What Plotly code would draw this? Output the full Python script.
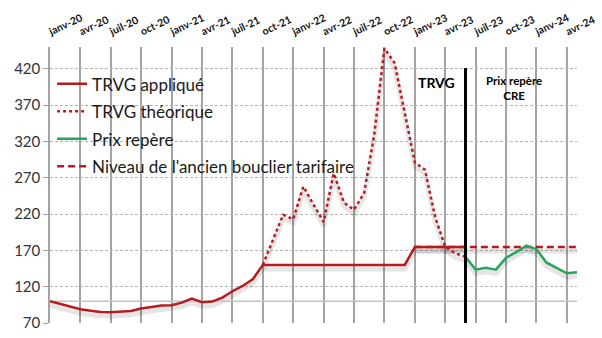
import plotly.graph_objects as go

# ---------------- data ----------------
months = [
    "janv-20", "févr-20", "mars-20", "avr-20", "mai-20", "juin-20", "juil-20", "août-20", "sept-20", "oct-20", "nov-20", "déc-20",
    "janv-21", "févr-21", "mars-21", "avr-21", "mai-21", "juin-21", "juil-21", "août-21", "sept-21", "oct-21", "nov-21", "déc-21",
    "janv-22", "févr-22", "mars-22", "avr-22", "mai-22", "juin-22", "juil-22", "août-22", "sept-22", "oct-22", "nov-22", "déc-22",
    "janv-23", "févr-23", "mars-23", "avr-23", "mai-23", "juin-23", "juil-23", "août-23", "sept-23", "oct-23", "nov-23", "déc-23",
    "janv-24", "févr-24", "mars-24", "avr-24", "mai-24",
]
tick_labels = ["janv-20", "avr-20", "juil-20", "oct-20", "janv-21", "avr-21", "juil-21", "oct-21",
               "janv-22", "avr-22", "juil-22", "oct-22", "janv-23", "avr-23", "juil-23", "oct-23",
               "janv-24", "avr-24"]

trvg_applique_x = months[0:42]
trvg_applique = [100, 96, 92, 89, 87, 85, 84.7, 85.6, 86.5, 90, 92, 94,
                 94.5, 98, 103.5, 98.5, 99.5, 105, 113.7, 121, 130, 150,
                 150, 150, 150, 150, 150, 150, 150, 150, 150, 150, 150, 150, 150, 150,
                 174.5, 174.5, 174.5, 174.5, 174.5, 174.5]

trvg_theorique_x = months[21:42]
trvg_theorique = [150, 184, 219, 213, 258, 233, 209, 276, 236, 226, 249, 330,
                  448, 428, 360, 291, 281, 216, 175, 166, 161]

prix_repere_x = months[41:53]
prix_repere = [161, 143.5, 146, 143.5, 160, 167.5, 176.5, 171.5, 153, 146, 138.5, 140]

bouclier_x = months[36:53]
bouclier = [174.5] * len(bouclier_x)

split_month = "juin-23"
split_line = [70, 421]
base_level = 100

y_ticks = [70, 120, 170, 220, 270, 320, 370, 420]
y_range = [70, 450]

# ---------------- style ----------------
RED = "#B81A20"
GREEN = "#2BA35A"
FONT = "Lato"
shadow_px = 4
plot_h = 338 - 47 - 15
shadow_off = shadow_px * (y_range[1] - y_range[0]) / plot_h
SHADOW = "rgba(0,0,0,0.10)"

fig = go.Figure()

# soft drop shadows under the lines
for xs, ys in [(trvg_applique_x, trvg_applique), (trvg_theorique_x, trvg_theorique),
               (prix_repere_x, prix_repere), (bouclier_x, bouclier)]:
    fig.add_trace(go.Scatter(x=xs, y=[v - shadow_off for v in ys], mode="lines",
                             line=dict(color=SHADOW, width=5), showlegend=False, hoverinfo="skip"))

fig.add_trace(go.Scatter(x=[months[0], months[-1]], y=[base_level, base_level],
                         mode="lines", line=dict(color="#c4c4c4", width=1.5), showlegend=False, hoverinfo="skip"))

fig.add_trace(go.Scatter(x=bouclier_x, y=bouclier, mode="lines", name="Niveau de l'ancien bouclier tarifaire",
                         line=dict(color=RED, width=2.5, dash="7px,4px"), legendrank=4, legendgroup="d"))
fig.add_trace(go.Scatter(x=trvg_theorique_x, y=trvg_theorique, mode="lines", name="TRVG théorique",
                         line=dict(color=RED, width=2.5, dash="dot"), legendrank=2, legendgroup="b"))
fig.add_trace(go.Scatter(x=prix_repere_x, y=prix_repere, mode="lines", name="Prix repère",
                         line=dict(color=GREEN, width=2.5), legendrank=3, legendgroup="c"))
fig.add_trace(go.Scatter(x=trvg_applique_x, y=trvg_applique, mode="lines", name="TRVG appliqué",
                         line=dict(color=RED, width=2.5), legendrank=1, legendgroup="a"))
fig.add_trace(go.Scatter(x=[split_month, split_month], y=split_line, mode="lines",
                         line=dict(color="black", width=3), showlegend=False, hoverinfo="skip"))

fig.add_annotation(x=38.1, y=401, text="<b>TRVG</b>", showarrow=False,
                   font=dict(family=FONT, size=14, color="black"))
fig.add_annotation(x=45.8, y=394, text="<b>Prix repère<br>CRE</b>", showarrow=False,
                   font=dict(family=FONT, size=11.5, color="black"))

fig.update_layout(
    width=602, height=338,
    margin=dict(l=50, r=25, t=47, b=15, autoexpand=False),
    paper_bgcolor="white", plot_bgcolor="white",
    font=dict(family=FONT, color="#262626"),
    legend=dict(x=0.004, y=0.93, xanchor="left", yanchor="top", bgcolor="rgba(0,0,0,0)",
                font=dict(family=FONT, size=17, color="#1a1a1a"), tracegroupgap=2.4,
                traceorder="grouped"),
    showlegend=True,
)
fig.update_xaxes(type="category", categoryorder="array", categoryarray=months, automargin=False,
                 range=[0, len(months) - 1], side="top", tickmode="array", tickvals=tick_labels,
                 tickangle=-25, tickfont=dict(family=FONT, size=10.5, color="#111111", weight="bold"),
                 ticklabelstandoff=8, ticklabelshift=-1,
                 showgrid=True, gridcolor="#a3a3a3", gridwidth=1.5, showline=False, ticks="", zeroline=False)
fig.update_yaxes(range=y_range, tickvals=y_ticks, showgrid=True, gridcolor="#b5b5b5", gridwidth=1,
                 griddash="3px,2px", showline=True, linecolor="#a3a3a3", linewidth=1.5, automargin=False,
                 ticks="outside", ticklen=5, tickcolor="#a3a3a3",
                 tickfont=dict(family=FONT, size=15, color="#333333"), zeroline=False)

fig.write_html("out.html")
